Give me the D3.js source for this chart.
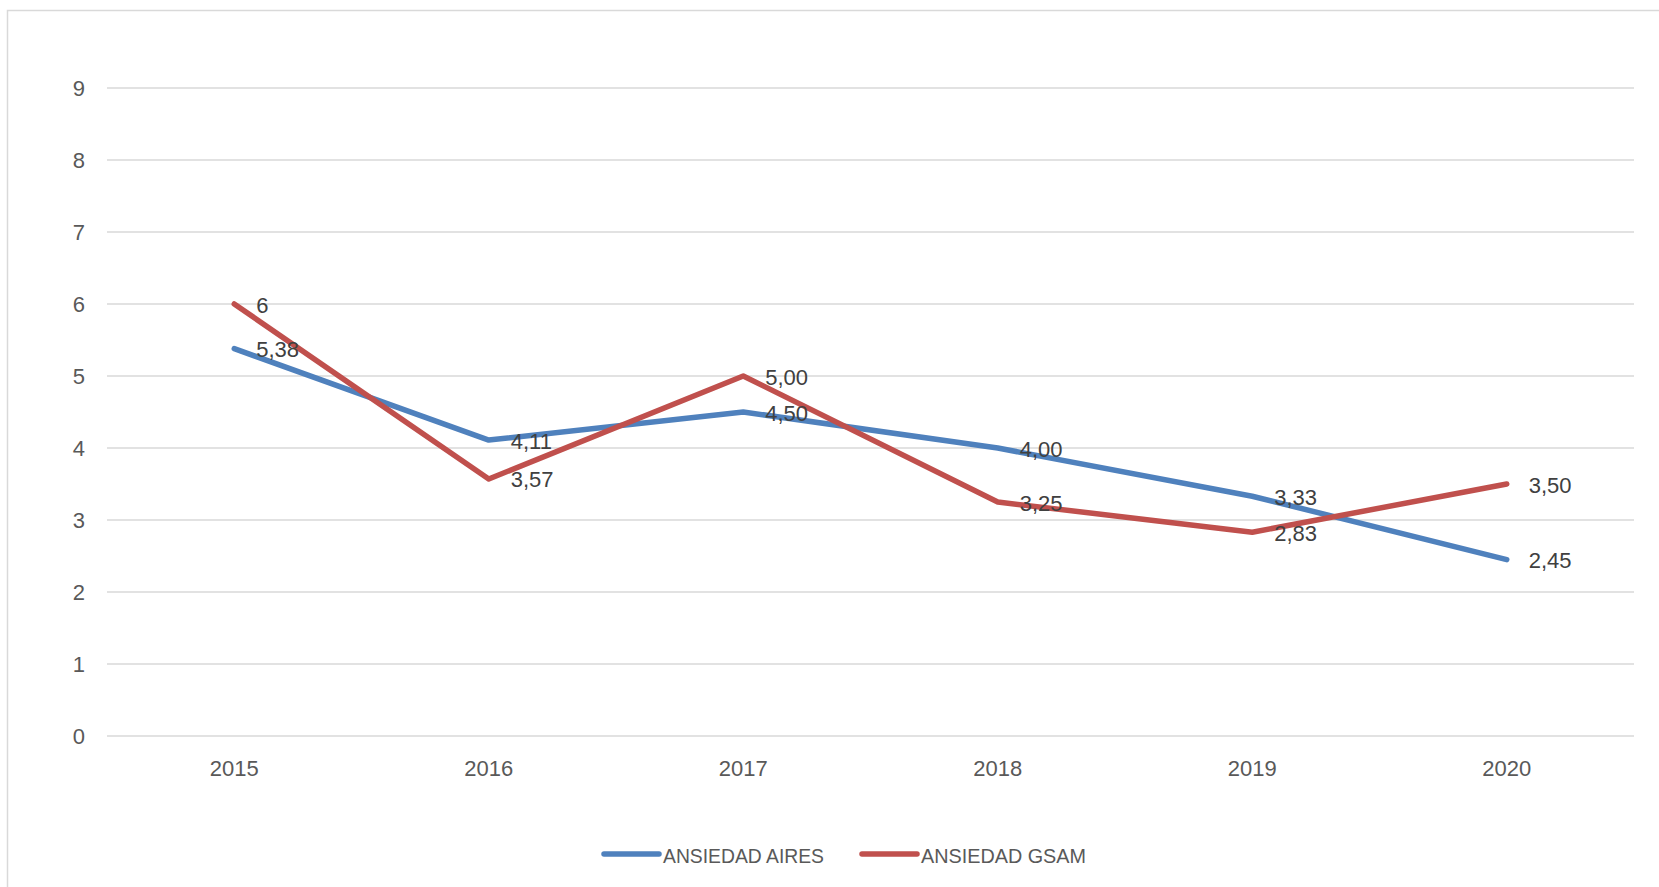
<!DOCTYPE html>
<html>
<head>
<meta charset="utf-8">
<script src="https://cdn.jsdelivr.net/npm/d3@7"></script>
<style>
  html, body { margin: 0; padding: 0; background: #fff; }
  svg { display: block; }
  text { font-family: "Liberation Sans", Arial, sans-serif; }
</style>
</head>
<body>
<svg id="chart" width="1659" height="887"></svg>
<script>
const years = ["2015", "2016", "2017", "2018", "2019", "2020"];
const aires = [5.38, 4.11, 4.50, 4.00, 3.33, 2.45];
const gsam = [6, 3.57, 5.00, 3.25, 2.83, 3.50];
const airesLabels = ["5,38", "4,11", "4,50", "4,00", "3,33", "2,45"];
const gsamLabels = ["6", "3,57", "5,00", "3,25", "2,83", "3,50"];
const yTicks = [0, 1, 2, 3, 4, 5, 6, 7, 8, 9];
const seriesNames = ["ANSIEDAD AIRES", "ANSIEDAD GSAM"];
const colors = ["#4F81BD", "#C0504D"];

const svg = d3.select("#chart");

// chart border
svg.append("rect")
  .attr("x", 7.5).attr("y", 10.5)
  .attr("width", 1700).attr("height", 1000)
  .attr("fill", "#fff").attr("stroke", "#d9d9d9").attr("stroke-width", 1.5);

const plotLeft = 107, plotRight = 1634, plotTop = 88, plotBottom = 736;

const x = d3.scalePoint().domain(years).range([plotLeft, plotRight]).padding(0.5);
const y = d3.scaleLinear().domain([0, 9]).range([plotBottom, plotTop]);

// gridlines
svg.append("g").selectAll("line").data(yTicks).join("line")
  .attr("x1", plotLeft).attr("x2", plotRight)
  .attr("y1", d => y(d)).attr("y2", d => y(d))
  .attr("stroke", "#d9d9d9").attr("stroke-width", 1.5);

// y labels
svg.append("g").selectAll("text").data(yTicks).join("text")
  .attr("x", 85).attr("y", d => y(d))
  .attr("text-anchor", "end").attr("dominant-baseline", "central")
  .attr("font-size", 22).attr("fill", "#595959")
  .text(d => d);

// x labels
svg.append("g").selectAll("text").data(years).join("text")
  .attr("x", d => x(d)).attr("y", 768)
  .attr("text-anchor", "middle").attr("dominant-baseline", "central")
  .attr("font-size", 22).attr("fill", "#595959")
  .text(d => d);

const series = [
  { values: aires, labels: airesLabels, color: colors[0] },
  { values: gsam, labels: gsamLabels, color: colors[1] }
];

const line = d3.line().x((d, i) => x(years[i])).y(d => y(d));

series.forEach(s => {
  svg.append("path")
    .attr("d", line(s.values))
    .attr("fill", "none")
    .attr("stroke", s.color)
    .attr("stroke-width", 5.5)
    .attr("stroke-linejoin", "round")
    .attr("stroke-linecap", "round");
});

series.forEach(s => {
  svg.append("g").selectAll("text").data(s.values).join("text")
    .attr("x", (d, i) => x(years[i]) + 22)
    .attr("y", (d, i) => y(d) + 1)
    .attr("dominant-baseline", "central")
    .attr("font-size", 22).attr("fill", "#404040")
    .text((d, i) => s.labels[i]);
});

// legend
const legend = [
  { name: seriesNames[0], color: colors[0], x1: 604, len: 161 },
  { name: seriesNames[1], color: colors[1], x1: 862, len: 165 }
];
legend.forEach(l => {
  svg.append("line")
    .attr("x1", l.x1).attr("x2", l.x1 + 55)
    .attr("y1", 854).attr("y2", 854)
    .attr("stroke", l.color).attr("stroke-width", 5.5)
    .attr("stroke-linecap", "round");
  svg.append("text")
    .attr("x", l.x1 + 59).attr("y", 855)
    .attr("dominant-baseline", "central")
    .attr("font-size", 21).attr("fill", "#595959")
    .attr("textLength", l.len)
    .attr("lengthAdjust", "spacingAndGlyphs")
    .text(l.name);
});
</script>
</body>
</html>
